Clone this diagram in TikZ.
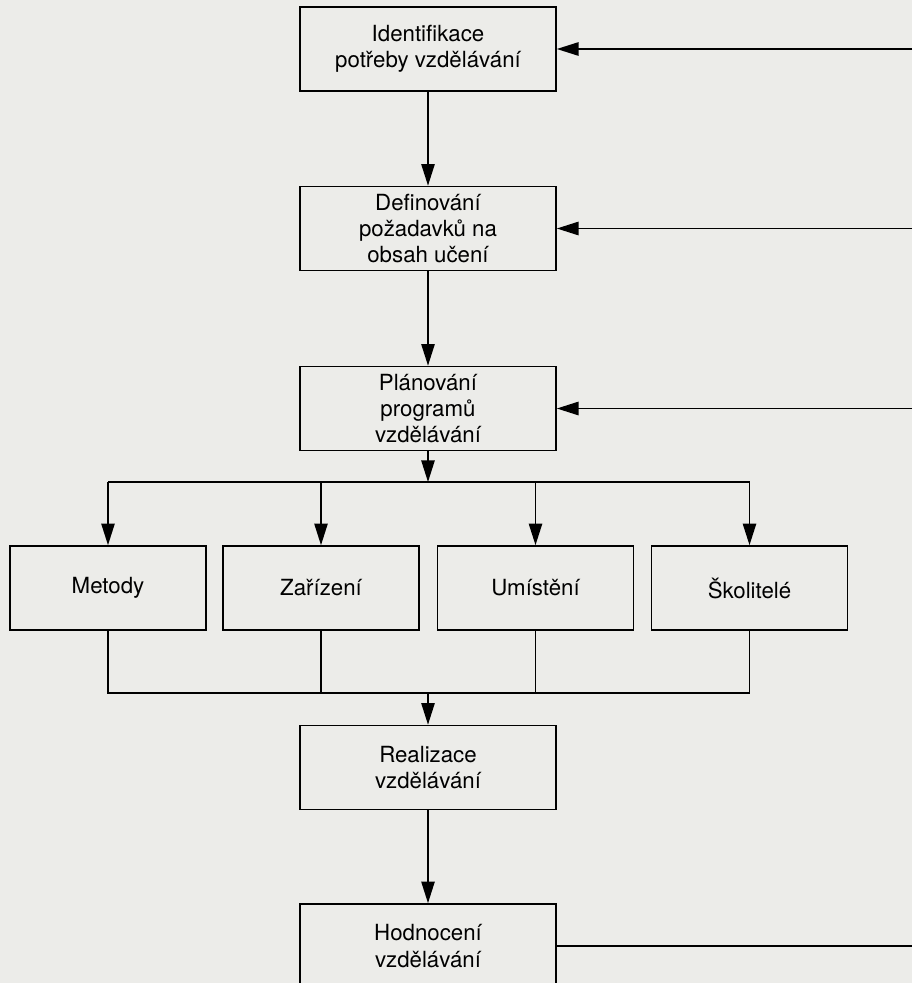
\documentclass[tikz,border=0pt]{standalone}
\usepackage{fontspec}
\setmainfont{TeX Gyre Heros}
\usetikzlibrary{arrows.meta}
\definecolor{paper}{RGB}{236,236,233}

\begin{document}
\begin{tikzpicture}[
  x=0.03cm, y=-0.03cm,
  font=\fontsize{19}{22.5}\selectfont,
  phase/.style={draw=black, fill=paper, line width=1.4pt, align=center,
    minimum width=7.68cm, minimum height=2.52cm, inner sep=2pt},
  part/.style={draw=black, fill=paper, line width=1.4pt, align=center,
    minimum width=5.88cm, minimum height=2.52cm, inner sep=2pt},
  flow/.style={-{Triangle[length=6.5mm, width=4mm]}, line width=1.4pt},
  wire/.style={line width=1.4pt}
]

% page, cut like the scan
\useasboundingbox (0,0) rectangle (912,983);
\clip (0,0) rectangle (912,983);
\fill[paper] (0,0) rectangle (912,983);

% main column
\node[phase] (ident) at (428,49)    {Identifikace\\potřeby vzdělávání};
\node[phase] (defin) at (428,228.5) {Definování\\požadavků na\\obsah učení};
\node[phase] (plan)  at (428,408.5) {Plánování\\programů\\vzdělávání};

% four parts of the programme
\node[part] (metody) at (108,588)   {Metody};
\node[part] (zariz)  at (321,588)   {Zařízení};
\node[part] (umist)  at (535.5,588) {Umístění};
\node[part] (skol)   at (749.5,588) {Školitelé};

\node[phase] (real) at (428,767.5) {Realizace\\vzdělávání};
\node[phase] (hodn) at (428,946)   {Hodnocení\\vzdělávání};

\coordinate (split) at (428,482);
\coordinate (join)  at (428,693);

% return lines from the right margin
\coordinate (back1) at (912,49);
\coordinate (back2) at (912,228.5);
\coordinate (back3) at (912,408.5);
\coordinate (back4) at (912,946);

\draw[flow] (ident) -- (defin);
\draw[flow] (defin) -- (plan);
\draw[flow] (plan) -- (split);

% fan out
\draw[wire] (metody.north |- split) -- (skol.north |- split);
\foreach \p in {metody,zariz,umist,skol}
  \draw[flow] (\p.north |- split) -- (\p.north);

% fan in
\draw[wire] (metody.south) -- (metody.south |- join) -- (skol.south |- join) -- (skol.south);
\draw[wire] (zariz.south) -- (zariz.south |- join);
\draw[wire] (umist.south) -- (umist.south |- join);
\draw[flow] (join) -- (real);

\draw[flow] (real) -- (hodn);

\draw[flow] (back1) -- (ident.east);
\draw[flow] (back2) -- (defin.east);
\draw[flow] (back3) -- (plan.east);
\draw[wire] (hodn.east) -- (back4);

\end{tikzpicture}
\end{document}
